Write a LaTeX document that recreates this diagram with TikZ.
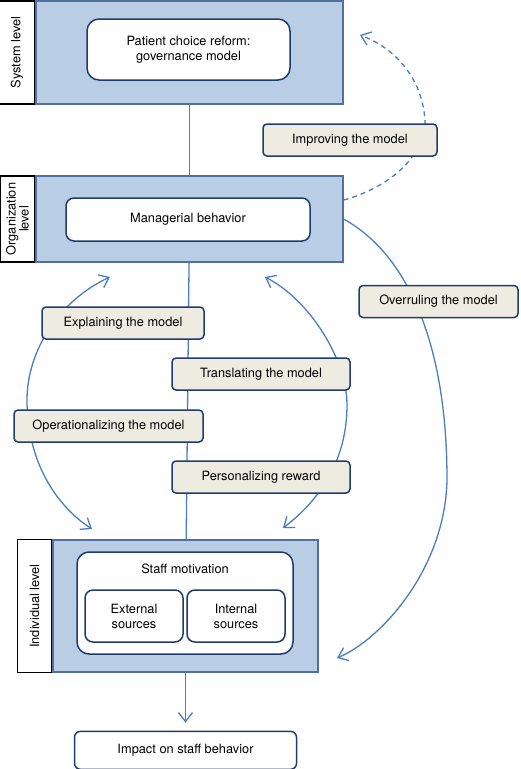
\documentclass[tikz,border=0pt]{standalone}
\usepackage{fontspec}
\setmainfont{TeX Gyre Heros}
\usetikzlibrary{arrows.meta,positioning}

\definecolor{lvlfill}{RGB}{185,205,229}
\definecolor{lvldraw}{RGB}{79,112,160}
\definecolor{boxdraw}{RGB}{31,60,110}
\definecolor{tagfill}{RGB}{238,236,225}
\definecolor{linkblue}{RGB}{74,126,192}

\begin{document}
\begin{tikzpicture}[x=1pt, y=-1pt,
  level/.style={rectangle, draw=lvldraw, fill=lvlfill, line width=1.2pt},
  lvltag/.style={rectangle, draw=black, fill=white, line width=1.8pt, rotate=90,
    align=center, font=\fontsize{12.8}{13}\selectfont, inner sep=1pt, anchor=south},
  box/.style={rectangle, rounded corners=8pt, draw=boxdraw, fill=white,
    line width=1.5pt, align=center, font=\fontsize{12.8}{15}\selectfont},
  tag/.style={rectangle, rounded corners=4pt, draw=boxdraw, fill=tagfill,
    line width=1.5pt, minimum height=32, font=\fontsize{12.8}{15}\selectfont},
  link/.style={linkblue, line width=1.3pt},
  arrow/.style={link, -{Straight Barb[length=9pt, width=14pt]}},
  twoway/.style={link, {Straight Barb[length=9pt, width=14pt]}-{Straight Barb[length=9pt, width=14pt]}},
  node distance=58pt
]
\useasboundingbox (0,0) rectangle (520,769);

% System level (top)
\node[level, minimum width=307, minimum height=103] (sys) at (189.5,52.5) {};
\node[lvltag, minimum width=103, minimum height=35] (sys_label) at (sys.west) {System level};
\node[box, rounded corners=12pt, minimum width=203, minimum height=61] (reform) at (188.5,49.5)
  {Patient choice reform:\\governance model};

% Organization level
\node[level, minimum width=307, minimum height=86] (org) at (189.5,219) {};
\node[lvltag, minimum width=86, minimum height=34] (org_label) at (org.west) {Organization\\level};
\node[box, minimum width=244, minimum height=43] (manager) at (188,219.5) {Managerial behavior};

% Individual level (bottom)
\node[level, minimum width=265, minimum height=132] (indiv) at (185.5,606) {};
\node[lvltag, minimum width=133, minimum height=34] (indiv_label) at (indiv.west) {Individual level};
\node[box, rounded corners=12pt, minimum width=216, minimum height=102,
  label={[anchor=north, yshift=-9pt, font=\fontsize{12.8}{15}\selectfont]north:Staff motivation}]
  (staff) at (185,603) {};
\node[box, minimum width=98, minimum height=52] (external) at (134,616) {External\\sources};
\node[box, minimum width=98, minimum height=52] (internal) at (236,616) {Internal\\sources};

\node[box, rounded corners=6pt, minimum width=222, minimum height=38, below=of indiv] (impact) {Impact on staff behavior};

% connectors
\coordinate (expl_end) at (110,277);
\coordinate (oper_end) at (92,529);
\coordinate (trans_end) at (265,277);
\coordinate (pers_end) at (283,528);
\coordinate (improve_end) at (360,35);
\coordinate (overrule_end) at (337,658);

\draw[link] (sys) -- (org);
\draw[link] (org) -- (indiv);
\draw[arrow, shorten >=8pt] (indiv) -- (impact);

\draw[twoway] (expl_end) .. controls (60,300) and (27,350) .. (27,400)
  .. controls (27,460) and (55,505) .. (oper_end);
\draw[twoway] (trans_end) .. controls (310,300) and (347,360) .. (347,405)
  .. controls (347,460) and (320,500) .. (pers_end);
\draw[arrow] (org.east) .. controls (400,250) and (447,330) .. (447,480)
  .. controls (445,570) and (380,640) .. (overrule_end);
\draw[arrow, dashed, dash pattern=on 5pt off 4pt] (org.7) .. controls (380,190) and (420,165) .. (425,125)
  .. controls (425,85) and (400,50) .. (improve_end);

% labels on the connectors
\node[tag, minimum width=174] (improve) at (350,140) {Improving the model};
\node[tag, minimum width=159] (overrule) at (438.5,301.5) {Overruling the model};
\node[tag, minimum width=162] (explain) at (123,323) {Explaining the model};
\node[tag, minimum width=178] (translate) at (261,374) {Translating the model};
\node[tag, minimum width=189] (operate) at (108.5,426) {Operationalizing the model};
\node[tag, minimum width=178] (reward) at (261,477) {Personalizing reward};

\end{tikzpicture}
\end{document}
